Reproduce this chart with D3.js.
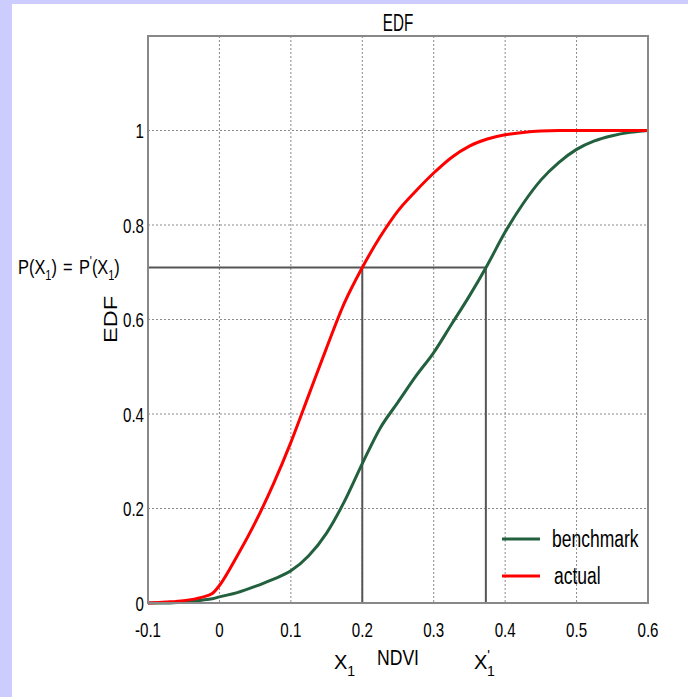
<!DOCTYPE html>
<html>
<head>
<meta charset="utf-8">
<script src="https://cdn.jsdelivr.net/npm/d3@7"></script>
<style>
  html, body { margin: 0; padding: 0; background: #ccccff; }
  text { font-family: "Liberation Sans", Arial, sans-serif; fill: #000; }
</style>
</head>
<body>
<script>
// NDVI sample points and EDF readings
const ndvi = [-0.1, -0.075, -0.05, -0.025, -0.01, 0, 0.025, 0.05, 0.075, 0.1, 0.125, 0.15, 0.175, 0.2,
  0.225, 0.25, 0.275, 0.3, 0.325, 0.35, 0.375, 0.4, 0.425, 0.45, 0.475, 0.5, 0.525, 0.55, 0.575, 0.6]
const actual = [0, 0.002, 0.005, 0.012, 0.02, 0.037, 0.1, 0.17, 0.25, 0.34, 0.44, 0.54, 0.635, 0.71,
  0.775, 0.83, 0.872, 0.91, 0.943, 0.967, 0.982, 0.991, 0.996, 0.999, 1, 1, 1, 1, 1, 1]
const benchmark = [0, 0, 0.002, 0.006, 0.009, 0.013, 0.022, 0.035, 0.05, 0.068, 0.1, 0.148, 0.215, 0.295,
  0.37, 0.425, 0.48, 0.53, 0.59, 0.65, 0.715, 0.785, 0.845, 0.895, 0.932, 0.96, 0.978, 0.989, 0.996, 1]
const xTicks = [-0.1, 0, 0.1, 0.2, 0.3, 0.4, 0.5, 0.6]
const yTicks = [0, 0.2, 0.4, 0.6, 0.8, 1]
const seriesNames = ["benchmark", "actual"]
const seriesColors = ["#22603e", "#ff0000"]
const matchP = 0.71
const x1 = 0.2
const x1prime = 0.373

const width = 688, height = 697
const margin = {top: 36, left: 148, right: 40, bottom: 94}

const svg = d3.select("body").append("svg")
  .attr("width", width).attr("height", height)
  .style("display", "block")

svg.append("rect").attr("x", 12).attr("y", 4)
  .attr("width", width - 12).attr("height", height - 4).attr("fill", "#fff")

const x = d3.scaleLinear().domain([-0.1, 0.6]).range([margin.left, width - margin.right])
const y = d3.scaleLinear().domain([0, 1.2]).range([height - margin.bottom, margin.top])

// squeeze text horizontally, the exported figure has narrow glyphs
const condense = (sel, k) => sel.each(function () {
  const w = this.getComputedTextLength()
  d3.select(this).attr("textLength", w * k).attr("lengthAdjust", "spacingAndGlyphs")
})

const grid = svg.append("g").attr("stroke", "#8a8a8a").attr("stroke-width", 1)
  .attr("stroke-dasharray", "2,2")
grid.selectAll("line.v").data(xTicks.slice(1, -1)).enter().append("line")
  .attr("x1", d => x(d)).attr("x2", d => x(d))
  .attr("y1", y(1.2)).attr("y2", y(0))
grid.selectAll("line.h").data(yTicks.slice(1)).enter().append("line")
  .attr("y1", d => y(d)).attr("y2", d => y(d))
  .attr("x1", x(-0.1)).attr("x2", x(0.6))

// lines showing the matching probabilities
const guide = svg.append("g").attr("stroke", "#555").attr("stroke-width", 2).attr("fill", "none")
guide.append("line").attr("x1", x(-0.1)).attr("x2", x(x1prime))
  .attr("y1", y(matchP)).attr("y2", y(matchP))
guide.selectAll("line.d").data([x1, x1prime]).enter().append("line")
  .attr("x1", d => x(d)).attr("x2", d => x(d))
  .attr("y1", y(matchP)).attr("y2", y(0))

const line = d3.line().x(d => x(d[0])).y(d => y(d[1])).curve(d3.curveMonotoneX)
const series = [benchmark, actual]
svg.append("g").selectAll("path").data(series).enter().append("path")
  .attr("d", s => line(ndvi.map((v, i) => [v, s[i]])))
  .attr("fill", "none")
  .attr("stroke", (s, i) => seriesColors[i])
  .attr("stroke-width", 3)
  .attr("stroke-linejoin", "round")

// box
svg.append("rect")
  .attr("x", x(-0.1)).attr("y", y(1.2))
  .attr("width", x(0.6) - x(-0.1)).attr("height", y(0) - y(1.2))
  .attr("fill", "none").attr("stroke", "#888").attr("stroke-width", 2)

// tick labels
svg.append("g").selectAll("text").data(xTicks).enter().append("text")
  .attr("x", d => x(d)).attr("y", y(0) + 34)
  .attr("text-anchor", "middle").style("font-size", "21px")
  .text(d => String(d))
  .call(condense, 0.72)
svg.append("g").selectAll("text").data(yTicks).enter().append("text")
  .attr("x", x(-0.1) - 4).attr("y", d => y(d) + 7.5)
  .attr("text-anchor", "end").style("font-size", "21px")
  .text(d => String(d))
  .call(condense, 0.72)

// titles
svg.append("g")
  .attr("transform", "translate(" + (x(-0.1) + x(0.6)) / 2 + ",31) scale(0.66,1)")
  .append("text").attr("text-anchor", "middle").style("font-size", "23px").text("EDF")
svg.append("g").attr("transform", "translate(398,665) scale(0.8,1)")
  .append("text").attr("text-anchor", "middle").style("font-size", "22px").text("NDVI")
svg.append("text")
  .attr("transform", "translate(117," + y(0.6) + ") rotate(-90)")
  .attr("text-anchor", "middle").style("font-size", "18px")
  .attr("textLength", 47).attr("lengthAdjust", "spacingAndGlyphs")
  .text("EDF")

// X1 and X1' under the axis
const xl = svg.append("g").style("font-size", "20px")
const t1 = xl.append("text").attr("x", 334).attr("y", 669)
t1.append("tspan").text("X")
t1.append("tspan").attr("dy", 7).style("font-size", "14px").text("1")
const t2 = xl.append("text").attr("x", 474).attr("y", 669)
t2.append("tspan").text("X")
t2.append("tspan").attr("dy", -9).style("font-size", "14px").text("'")
t2.append("tspan").attr("dx", -3).attr("dy", 16).style("font-size", "14px").text("1")

// P(X1) = P'(X1)
const pl = svg.append("g").attr("transform", "translate(18,274) scale(0.78,1)")
  .append("text").style("font-size", "21px")
pl.append("tspan").text("P(X")
pl.append("tspan").attr("dy", 6).style("font-size", "14px").text("1")
pl.append("tspan").attr("dy", -6).text(")")
pl.append("tspan").attr("dx", 8).text("=")
pl.append("tspan").attr("dx", 8).text("P")
pl.append("tspan").attr("dy", -8).style("font-size", "14px").text("'")
pl.append("tspan").attr("dy", 8).text("(X")
pl.append("tspan").attr("dy", 6).style("font-size", "14px").text("1")
pl.append("tspan").attr("dy", -6).text(")")

// legend
const legend = svg.append("g").attr("transform", "translate(502,539)")
const items = legend.selectAll("g").data(seriesNames).enter().append("g")
  .attr("transform", (d, i) => "translate(0," + i * 37 + ")")
items.append("line").attr("x1", 0).attr("x2", 38)
  .attr("stroke", (d, i) => seriesColors[i]).attr("stroke-width", 3)
items.append("text").attr("x", (d, i) => 50 + i * 2).attr("y", 8)
  .style("font-size", "23px").text(d => d)
  .call(condense, 0.76)
</script>
</body>
</html>
